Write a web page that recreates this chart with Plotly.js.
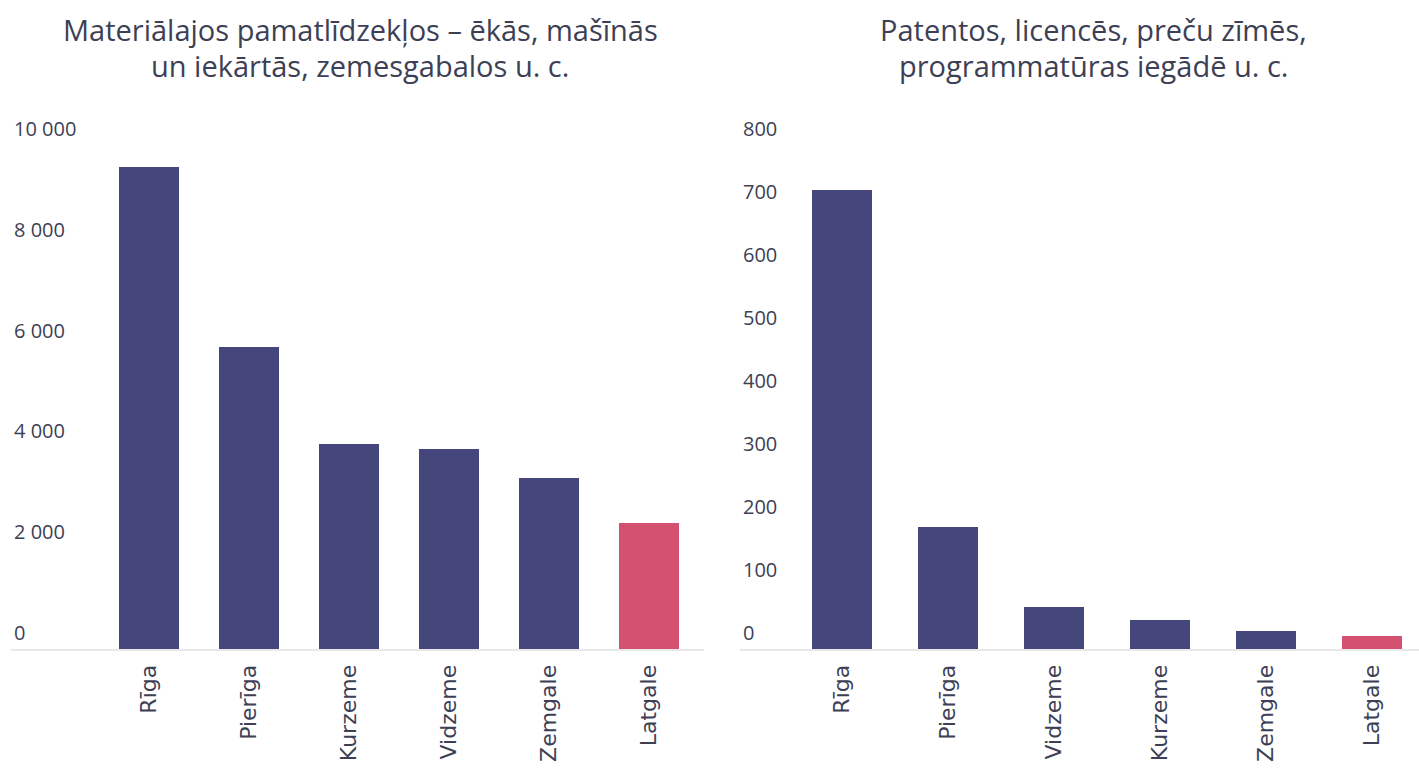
<!DOCTYPE html>
<html>
<head>
<meta charset="utf-8">
<script src="https://cdn.plot.ly/plotly-3.0.1.min.js"></script>
<style>html,body{margin:0;padding:0;background:#fff;}#chart{width:1419px;height:769px;}</style>
</head>
<body>
<div id="chart"></div>
<script>
// ---- data ----
const leftTitle1 = "Materiālajos pamatlīdzekļos – ēkās, mašīnās";
const leftTitle2 = "un iekārtās, zemesgabalos u. c.";
const rightTitle1 = "Patentos, licencēs, preču zīmēs,";
const rightTitle2 = "programmatūras iegādē u. c.";

const leftRegions = ["Rīga", "Pierīga", "Kurzeme", "Vidzeme", "Zemgale", "Latgale"];
const leftValues = [9560, 5990, 4070, 3960, 3390, 2500];

const rightRegions = ["Rīga", "Pierīga", "Vidzeme", "Kurzeme", "Zemgale", "Latgale"];
const rightValues = [729, 193, 66, 46, 29, 20];

const leftTickVals = [0, 2000, 4000, 6000, 8000, 10000];
const leftTickText = ["0", "2 000", "4 000", "6 000", "8 000", "10 000"];
const rightTickVals = [0, 100, 200, 300, 400, 500, 600, 700, 800];
const rightTickText = ["0", "100", "200", "300", "400", "500", "600", "700", "800"];

// ---- styles ----
const NAVY = "#45467c";
const PINK = "#d45070";
const TXT = "#3d3f55";
const highlight = "Latgale";

function colorsFor(regions) {
  return regions.map(r => r === highlight ? PINK : NAVY);
}

const W = 1419, H = 769;
const mT = 100, mB = 120;
const plotH = H - mT - mB;
const plotBottom = H - mB;
function py(px) { return (plotBottom - px) / plotH; }

const traces = [
  {
    type: "bar", x: leftRegions, y: leftValues, xaxis: "x", yaxis: "y",
    marker: {color: colorsFor(leftRegions), line: {width: 0}},
    width: 0.6, hoverinfo: "x+y", showlegend: false
  },
  {
    type: "bar", x: rightRegions, y: rightValues, xaxis: "x2", yaxis: "y2",
    marker: {color: colorsFor(rightRegions), line: {width: 0}},
    width: 0.565, hoverinfo: "x+y", showlegend: false
  }
];

const xCommon = {
  type: "category",
  tickangle: -90,
  ticks: "",
  showgrid: false,
  zeroline: false,
  showline: true,
  linecolor: "#e8e8e8",
  linewidth: 2,
  tickfont: {family: "DejaVu Sans, Verdana, sans-serif", size: 22, color: TXT},
  ticklabelstandoff: 5
};
const yCommon = {
  showgrid: false,
  zeroline: false,
  showline: false,
  ticks: "",
  tickmode: "array",
  ticklabelposition: "inside",
  ticklabelshift: -16,
  ticklabelstandoff: 0,
  tickfont: {family: "Open Sans, sans-serif", size: 20, color: TXT}
};

const layout = {
  width: W, height: H,
  margin: {l: 0, r: 0, t: mT, b: mB},
  paper_bgcolor: "#fff", plot_bgcolor: "#fff",
  bargap: 0,
  xaxis: Object.assign({}, xCommon, {domain: [11 / W, 704 / W], range: [-1.38, 5.55], anchor: "y"}),
  yaxis: Object.assign({}, yCommon, {domain: [0, 1], range: [0, plotH / 0.0504], anchor: "x",
    tickvals: leftTickVals, ticktext: leftTickText}),
  xaxis2: Object.assign({}, xCommon, {domain: [740 / W, 1], range: [-0.96, 5.44], anchor: "y2"}),
  yaxis2: Object.assign({}, yCommon, {domain: [0, 1], range: [0, plotH / 0.63], anchor: "x2",
    tickvals: rightTickVals, ticktext: rightTickText}),
  annotations: [
    {text: leftTitle1, x: 360 / W, y: py(29.5)},
    {text: leftTitle2, x: 360 / W, y: py(65.5)},
    {text: rightTitle1, x: 1093 / W, y: py(29.5)},
    {text: rightTitle2, x: 1093 / W, y: py(65.5)}
  ].map(a => Object.assign(a, {
    xref: "paper", yref: "paper", xanchor: "center", yanchor: "middle",
    showarrow: false, font: {family: "Open Sans, sans-serif", size: 29, color: TXT}
  }))
};

Plotly.newPlot("chart", traces, layout, {displayModeBar: false, staticPlot: true});
</script>
</body>
</html>
